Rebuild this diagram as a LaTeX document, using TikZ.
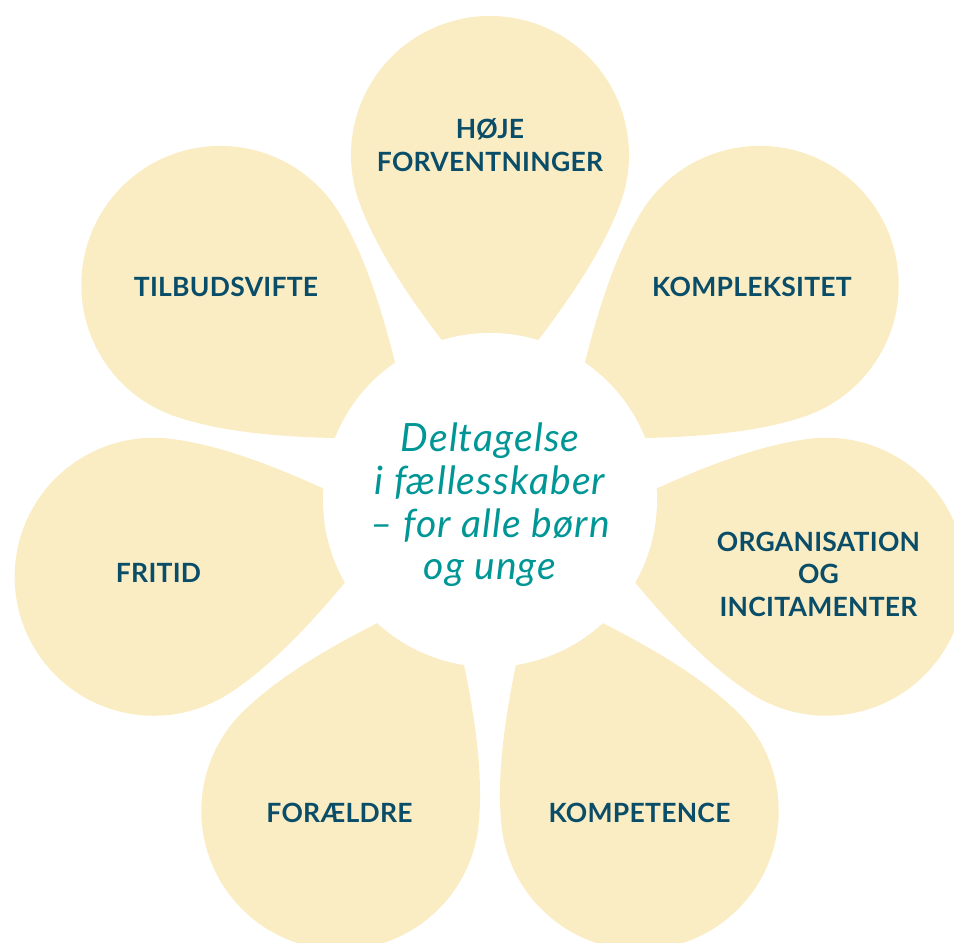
\documentclass[tikz,border=0pt]{standalone}
\usepackage{fontspec}
\setmainfont{Lato}
\definecolor{petal}{RGB}{250,236,195}
\definecolor{lbl}{RGB}{10,77,104}
\definecolor{tealtext}{RGB}{0,150,150}
\tikzset{
  petalfill/.style={fill=petal},
  lab/.style={text=lbl, font=\fontsize{26.5}{32.5}\selectfont\bfseries\addfontfeatures{LetterSpace=1}, align=center, inner sep=0pt},
  centretext/.style={text=tealtext, font=\fontsize{39}{42.7}\selectfont\itshape\addfontfeatures{LetterSpace=3}, align=center, inner sep=0pt}
}
\newcommand\drawpetal[1]{%
  \begin{scope}[shift={(490,443)}, rotate=#1]
    \fill[petalfill] (100,0) .. controls (176.6,64.3) and (241.06,110.1) .. (297.46,130.62)
      arc[start angle=110, end angle=-110, radius=139]
      .. controls (241.06,-110.1) and (176.6,-64.3) .. (100,0) -- cycle;
  \end{scope}}
\begin{document}
\begin{tikzpicture}[x=1pt,y=1pt]
  \useasboundingbox (0,0) rectangle (954,943);
  \clip (0,0) rectangle (954,943);
  \foreach \a in {90,38.571,-12.857,-64.286,-115.714,-167.143,141.429} {\drawpetal{\a}}
  \fill[white] (490,443) circle (167);
  \node[lab] (hoje) at (490,798) {HØJE\\FORVENTNINGER};
  \node[lab] (kompleks) at (752,656) {KOMPLEKSITET};
  \node[lab] (tilbud) at (226,656) {TILBUDSVIFTE};
  \node[lab] (org) at (818.5,369) {ORGANISATION\\OG\\INCITAMENTER};
  \node[lab] (fritid) at (158.5,370) {FRITID};
  \node[lab] (foraeldre) at (339.5,130) {FORÆLDRE};
  \node[lab] (kompetence) at (639.5,130) {KOMPETENCE};
  \node[centretext] (centre) at (490,438) {Deltagelse\\i fællesskaber\\– for alle børn\\og unge};
\end{tikzpicture}
\end{document}
